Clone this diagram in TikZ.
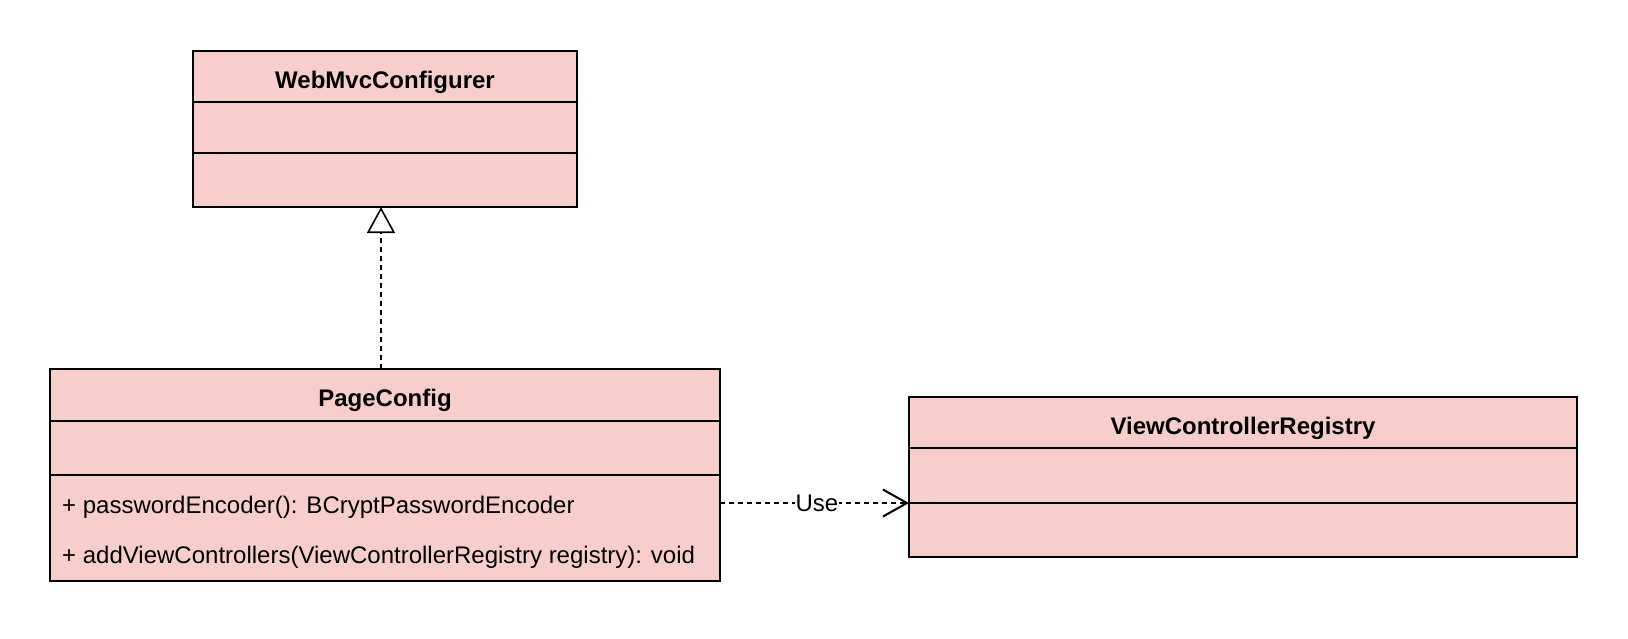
\documentclass[tikz,border=0pt]{standalone}
\usepackage{fontspec}
\setmainfont{Liberation Sans}
\usetikzlibrary{arrows.meta}
\definecolor{classfill}{HTML}{F8CECC}
\begin{document}
\begin{tikzpicture}[x=1pt,y=-1pt,
  comp/.style={draw=black, fill=classfill, line width=1.3pt, inner sep=0pt, outer sep=0pt, anchor=north west},
  hdr/.style={comp, line width=2pt},
  sepline/.style={draw=black, line width=2.4pt},
  titletext/.style={font=\bfseries\fontsize{24}{29}\selectfont, anchor=base, inner sep=0pt},
  membertext/.style={font=\fontsize{24}{29}\selectfont, anchor=base west, inner sep=0pt},
  dashline/.style={line width=2pt, dash pattern=on 5pt off 4pt},
  realize/.style={dashline, -{Triangle[open, length=26pt, width=28pt, line width=1.6pt]}},
  depend/.style={dashline, -{Straight Barb[length=24pt, width=27pt, line width=2pt]}},
  edgelabel/.style={font=\fontsize{24}{29}\selectfont, fill=white, inner sep=0.3pt}
]
\fill[white] (0,0) rectangle (1628,638);
\useasboundingbox (0,0) rectangle (1628,638);

% WebMvcConfigurer
\node[comp, minimum width=384pt, minimum height=51pt] (wA) at (193,102) {};
\node[comp, minimum width=384pt, minimum height=54pt] (wM) at (193,153) {};
\node[hdr, minimum width=384pt, minimum height=51pt] (wH) at (193,51) {};
\draw[sepline] (wM.north west) -- (wM.north east);
\node[titletext] (wT) at (385,88.5) {WebMvcConfigurer};

% PageConfig
\node[comp, minimum width=670pt, minimum height=54.5pt] (pA) at (50,420.5) {};
\node[comp, minimum width=670pt, minimum height=106pt] (pM) at (50,475) {};
\node[hdr, minimum width=670pt, minimum height=51.5pt] (pH) at (50,369) {};
\draw[sepline] (pM.north west) -- (pM.north east);
\node[titletext] (pT) at (385,406.5) {PageConfig};
\node[membertext] (m1) at (62,513.3) {+ passwordEncoder(): BCryptPasswordEncoder};
\node[membertext] (m2) at (62,563.5) {+ addViewControllers(ViewControllerRegistry registry): void};

% ViewControllerRegistry
\node[comp, minimum width=668pt, minimum height=55pt] (vA) at (909,448) {};
\node[comp, minimum width=668pt, minimum height=54pt] (vM) at (909,503) {};
\node[hdr, minimum width=668pt, minimum height=51pt] (vH) at (909,397) {};
\draw[sepline] (vM.north west) -- (vM.north east);
\node[titletext] (vT) at (1243,434.5) {ViewControllerRegistry};

% connectors
\draw[realize] ([xshift=-4pt]pH.north) -- ([xshift=-4pt]wM.south);
\draw[depend] (pM.east |- vM.north west) -- node[edgelabel, pos=0.513] (useL) {Use} (vM.north west);
\end{tikzpicture}
\end{document}
